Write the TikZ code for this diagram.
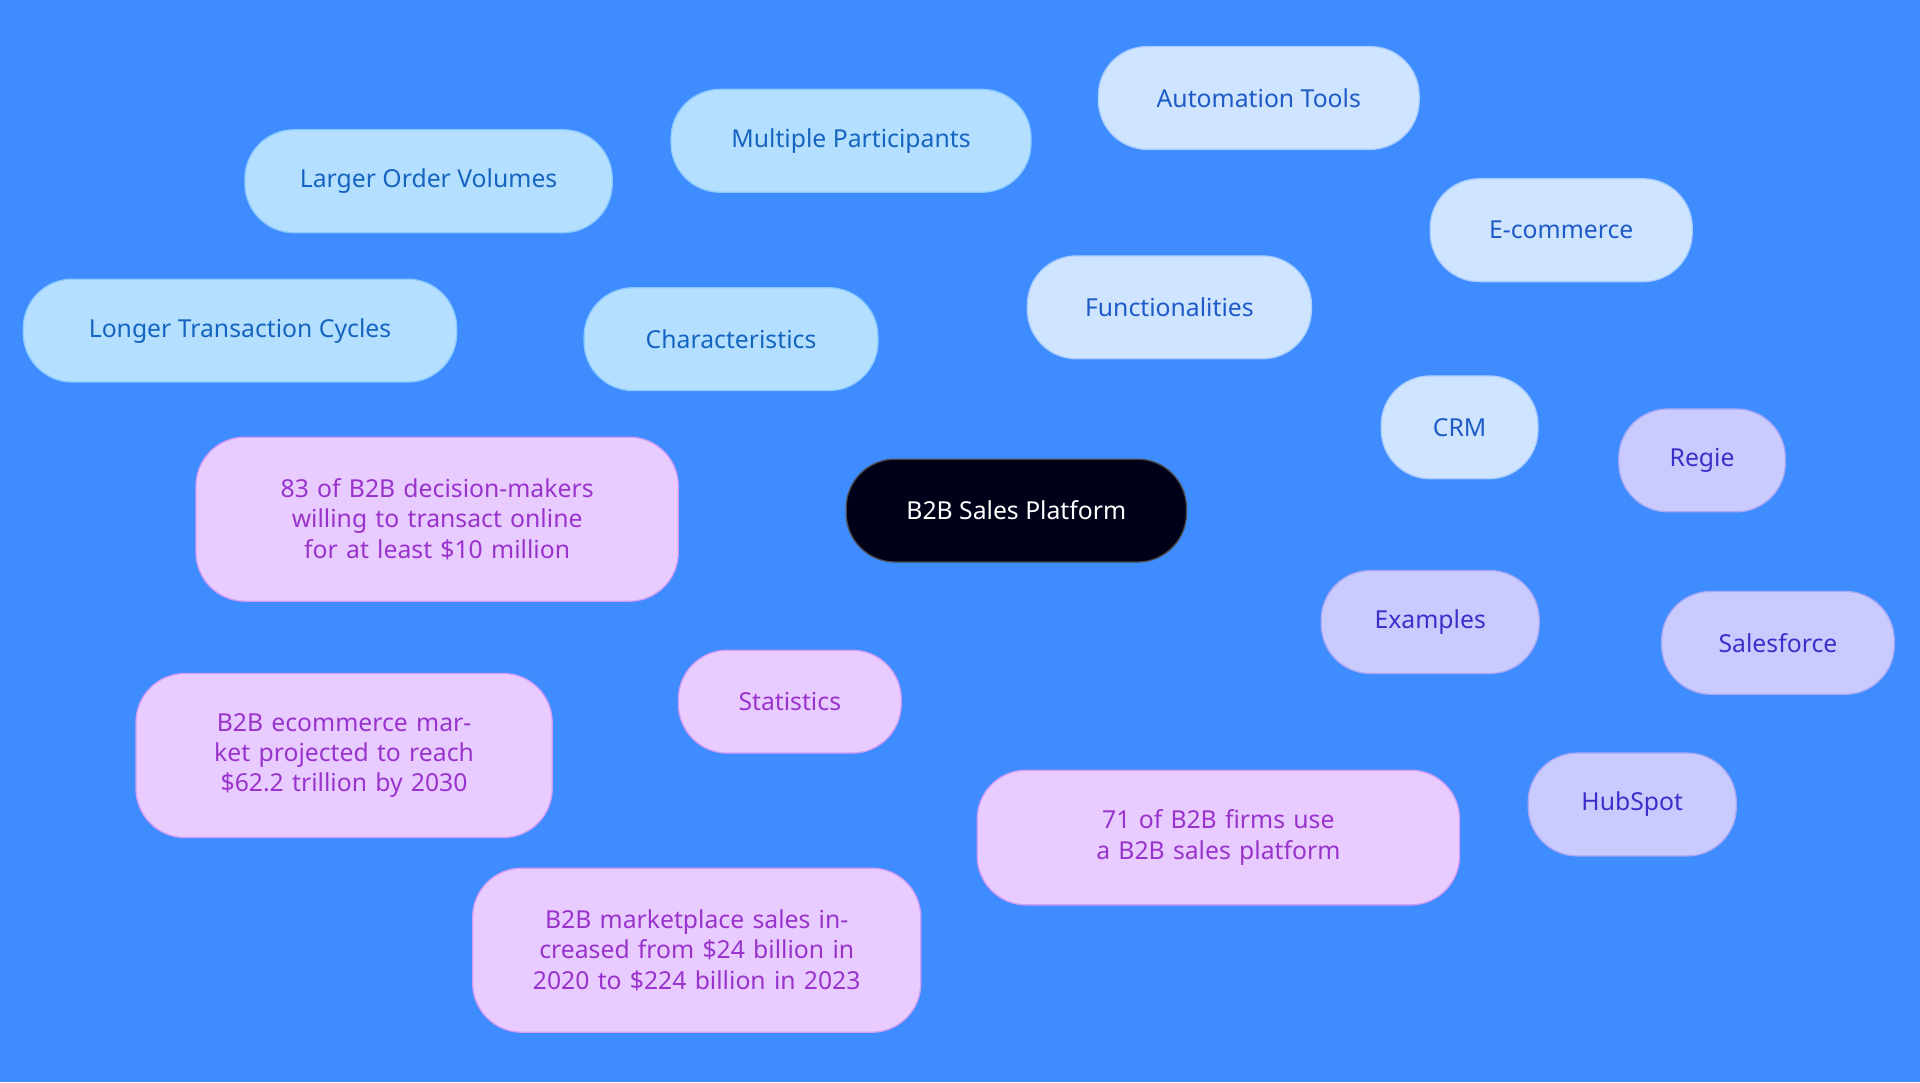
\documentclass[tikz,border=0pt]{standalone}
\usepackage{fontspec}
\setmainfont{Noto Sans}
\usetikzlibrary{positioning}
\definecolor{bgblue}{HTML}{3F8CFF}
\definecolor{chfill}{HTML}{B5DFFF}\definecolor{chtext}{HTML}{1565C0}\definecolor{chline}{HTML}{8CCBFF}
\definecolor{fufill}{HTML}{CFE4FF}\definecolor{futext}{HTML}{1E5BC6}\definecolor{fuline}{HTML}{A9CDFF}
\definecolor{exfill}{HTML}{C9CBFF}\definecolor{extext}{HTML}{3B2FC9}\definecolor{exline}{HTML}{A8A8F5}
\definecolor{stfill}{HTML}{E8CCFF}\definecolor{sttext}{HTML}{9933CC}\definecolor{stline}{HTML}{D29CF5}
\pgfdeclarelayer{bg}
\pgfsetlayers{bg,main}
\tikzset{
  box/.style={rounded corners=0.8cm, minimum height=1.68cm, align=center,
    font=\fontsize{11.5}{14}\selectfont, line width=0.6pt},
  center/.style={box, fill=black!90!blue, draw=black!70, text=white, minimum width=5.56cm},
  chr/.style={box, fill=chfill, draw=chline, text=chtext},
  fun/.style={box, fill=fufill, draw=fuline, text=futext},
  exa/.style={box, fill=exfill, draw=exline, text=extext},
  sta/.style={box, fill=stfill, draw=stline, text=sttext},
  link/.style={line width=1.6pt}
}
\begin{document}
\begin{tikzpicture}[x=0.02cm,y=-0.02cm]
\fill[bgblue] (0,0) rectangle (1568,884);
\node[center] (root) at (830,417) {B2B Sales Platform};
% characteristics
\node[chr, minimum width=4.8cm] (char) at (597,277) {Characteristics};
\node[chr, minimum width=6cm] (order) at (350,148) {Larger Order Volumes};
\node[chr, minimum width=5.88cm] (multi) at (695,115) {Multiple Participants};
\node[chr, minimum width=7.08cm] (cycle) at (196,270) {Longer Transaction Cycles};
% functionalities
\node[fun, minimum width=4.64cm] (func) at (955,251) {Functionalities};
\node[fun, minimum width=5.24cm] (auto) at (1028,80) {Automation Tools};
\node[fun, minimum width=4.28cm] (ecom) at (1275,188) {E-commerce};
\node[fun, minimum width=2.56cm] (crm) at (1192,349) {CRM};
% examples
\node[exa, minimum width=3.56cm] (exam) at (1168,508) {Examples};
\node[exa, minimum width=2.72cm] (regie) at (1390,376) {Regie};
\node[exa, minimum width=3.8cm] (sforce) at (1452,525) {Salesforce};
\node[exa, minimum width=3.4cm] (hub) at (1333,657) {HubSpot};
% statistics
\node[sta, minimum width=3.64cm] (stat) at (645,573) {Statistics};
\node[sta, minimum width=7.88cm, minimum height=2.68cm, text width=6.9cm] (dec) at (357,424)
  {83 of B2B decision-makers willing to transact online for at least \$10 million};
\node[sta, minimum width=6.8cm, minimum height=2.68cm, text width=5.6cm] (market) at (281,617)
  {B2B ecommerce market projected to reach \$62.2 trillion by 2030};
\node[sta, minimum width=7.32cm, minimum height=2.68cm, text width=6.4cm] (place) at (569,776)
  {B2B marketplace sales increased from \$24 billion in 2020 to \$224 billion in 2023};
\node[sta, minimum width=7.88cm, minimum height=2.2cm, text width=7cm] (firms) at (995,684)
  {71 of B2B firms use a B2B sales platform};
\begin{pgfonlayer}{bg}
\draw[link, chline] (root) -- (char) (char) -- (order) (char) -- (multi) (char) -- (cycle);
\draw[link, fuline] (root) -- (func) (func) -- (auto) (func) -- (ecom) (func) -- (crm);
\draw[link, exline] (root) -- (exam) (exam) -- (regie) (exam) -- (sforce) (exam) -- (hub);
\draw[link, stline] (root) -- (stat) (stat) -- (dec) (stat) -- (market) (stat) -- (place) (stat) -- (firms);
\end{pgfonlayer}
\end{tikzpicture}
\end{document}
